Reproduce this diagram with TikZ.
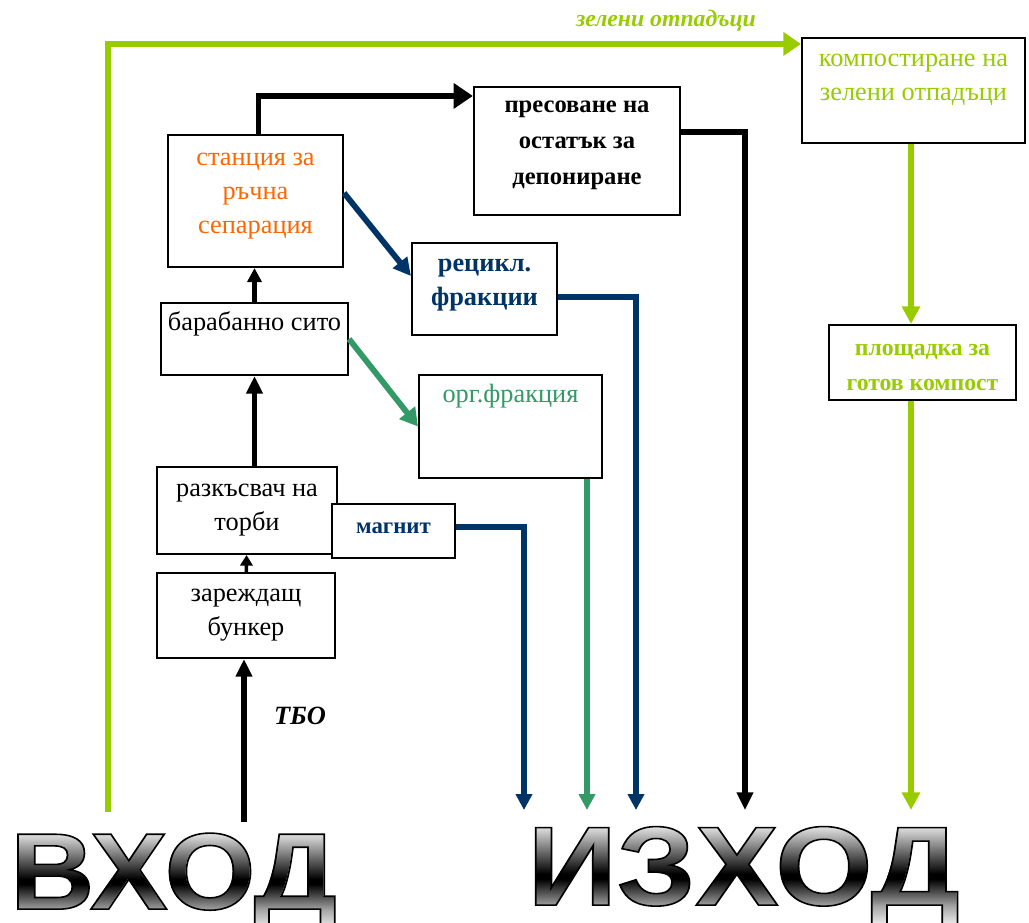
\documentclass[tikz,border=0pt]{standalone}
\usepackage{fontspec}
\setmainfont{Liberation Serif}
\newfontfamily\exitfont{Liberation Sans}
\usetikzlibrary{positioning,arrows.meta,fadings}

\definecolor{handorange}{HTML}{FF6600}
\definecolor{recblue}{HTML}{003366}
\definecolor{orggreen}{HTML}{339966}
\definecolor{greenwaste}{HTML}{99CC00}

\newlength\unitpx
\setlength\unitpx{0.02cm}

\newcommand{\bigword}[3]{\scalebox{#1}[1]{\exitfont\bfseries\fontsize{#2}{#2}\selectfont #3}}
\newcommand{\outlineword}[1]{\special{pdf:literal direct 1 Tr}#1\special{pdf:literal direct 0 Tr}}

\pgfdeclareverticalshading{metal}{100bp}{color(0bp)=(white); color(25bp)=(white); color(36bp)=(black!35); color(49bp)=(black); color(51.5bp)=(black); color(75bp)=(black!8); color(100bp)=(black!8)}
\pgfdeclarefading{entryfade}{\color{white}\bigword{1.07}{62}{ВХОД}}
\pgfdeclarefading{exitfade}{\color{white}\bigword{1.11}{64}{ИЗХОД}}

\tikzstyle{box}=[draw,line width=1.2pt,fill=white,inner sep=0pt]
\tikzstyle{boxtext}=[align=center,inner sep=0pt,font=\fontsize{15}{19.5}\selectfont,execute at begin node=\strut]
\tikzstyle{boldtext}=[boxtext,font=\fontsize{15}{19.5}\selectfont\bfseries]
\tikzstyle{flow}=[line width=3.3pt]
\tikzstyle{blackflow}=[flow,-{Triangle[length=10pt,width=9pt]}]
\tikzstyle{blueflow}=[flow,recblue,-{Triangle[length=9pt,width=9pt]}]
\tikzstyle{orgflow}=[flow,orggreen,-{Triangle[length=10pt,width=11pt]}]
\tikzstyle{limeflow}=[flow,greenwaste,-{Triangle[length=10pt,width=10pt]}]
\tikzstyle{bigtext}=[inner sep=0pt,line width=0.9pt]

\begin{document}
\begin{tikzpicture}[x=0.02cm,y=-0.02cm]
    \useasboundingbox (0,0) rectangle (1029,923);
    % First the boxes
    \foreach \pos/\w/\h/\name in {{(255.5,201)/175/132/station}, {(577,151)/206/128/press},
        {(913.5,90.5)/223/105/compost}, {(922.5,362.5)/187/75/yard}, {(484.5,289)/145/92/recycl},
        {(254.5,339)/187/72/drum}, {(510.5,426.5)/183/103/organic}, {(247,510.5)/180/87/opener},
        {(393.5,531)/123/54/magnet}, {(246,615.5)/178/85/hopper}}
        \node[box,minimum width=\w\unitpx,minimum height=\h\unitpx] (\name) at \pos {};

    % Texts in the boxes
    \node[boxtext,text=handorange,below=10.6pt of station.north] (station-t) {станция за\\ръчна\\сепарация};
    \node[boldtext,font=\fontsize{14}{20.5}\selectfont\bfseries,below=8.5pt of press.north] (press-t) {пресоване на\\остатък за\\депониране};
    \node[boxtext,text=greenwaste,below=9.6pt of compost.north] (compost-t) {компостиране на\\зелени отпадъци};
    \node[boldtext,text=greenwaste,font=\fontsize{13.5}{19.5}\selectfont\bfseries,below=11.6pt of yard.north] (yard-t) {площадка за\\готов компост};
    \node[boldtext,text=recblue,below=9.5pt of recycl.north] (recycl-t) {рецикл.\\фракции};
    \node[boxtext,below=2.3pt of drum.north] (drum-t) {барабанно сито};
    \node[boxtext,text=orggreen,below=2.3pt of organic.north] (organic-t) {орг.фракция};
    \node[boxtext,below=10pt of opener.north] (opener-t) {разкъсвач на\\торби};
    \node[boldtext,text=recblue,font=\fontsize{13}{19.5}\selectfont\bfseries,below=3.8pt of magnet.north] (magnet-t) {магнит};
    \node[boxtext,below=9.5pt of hopper.north] (hopper-t) {зареждащ\\бункер};

    % Free ends of the connectors
    \coordinate (tbo-in) at (244,822);
    \coordinate (green-in) at (108,812);
    \foreach \name/\x in {exit1/524,exit2/587,exit3/636,exit4/745,exit5/911}
        \coordinate (\name) at (\x,810);

    % Flow lines
    \draw[blackflow] (tbo-in) -- (tbo-in |- hopper.south);
    \draw[flow,line width=2pt,-{Triangle[length=6pt,width=7pt]}] (hopper) -- (opener);
    \draw[blackflow] (opener.north -| drum) -- (drum.south);
    \draw[blackflow,line width=3pt,-{Triangle[length=8pt,width=8pt]}] (drum.north) -- (drum.north |- station.south);
    \draw[blackflow,-{Triangle[length=11pt,width=14pt]}] ([shift={(3,0)}]station.north) |- ([shift={(0,10)}]press.north west);
    \draw[blackflow] ([shift={(0,-19)}]press.east) -| (exit4);
    \draw[blueflow,-{Triangle[length=10pt,width=10pt]}] ([shift={(0,-8)}]station.east) -- ([shift={(0,-13)}]recycl.west);
    \draw[blueflow] ([shift={(0,8)}]recycl.east) -| (exit3);
    \draw[orgflow] (drum.east) -- (organic.west);
    \draw[orgflow,-{Triangle[length=9pt,width=9pt]}] (organic.south -| exit2) -- (exit2);
    \draw[blueflow] ([shift={(0,-4)}]magnet.east) -| (exit1);
    \draw[limeflow,-{Triangle[length=10pt,width=13pt]}] (green-in) |- ([shift={(0,7)}]compost.north west);
    \draw[limeflow] (compost.south -| exit5) -- (yard.north -| exit5);
    \draw[limeflow] (yard.south -| exit5) -- (exit5);

    % Labels on the lines
    \node[font=\fontsize{15}{18}\selectfont\bfseries\itshape] (tbo-l) at (300,716) {ТБО};
    \node[font=\fontsize{13.5}{16}\selectfont\bfseries\itshape,text=greenwaste] (green-l) at (666,21) {зелени отпадъци};

    % Big words
    \shade[shading=metal,path fading=entryfade,fit fading=false,fading transform={shift={(173.5,882)}}] (0,832) rectangle (350,932);
    \shade[shading=metal,path fading=exitfade,fit fading=false,fading transform={shift={(743.5,877)}}] (520,825) rectangle (975,929);
    \node[bigtext] (entry) at (173.5,882) {\outlineword{\bigword{1.07}{62}{ВХОД}}};
    \node[bigtext] (exit) at (743.5,877) {\outlineword{\bigword{1.11}{64}{ИЗХОД}}};
\end{tikzpicture}
\end{document}
